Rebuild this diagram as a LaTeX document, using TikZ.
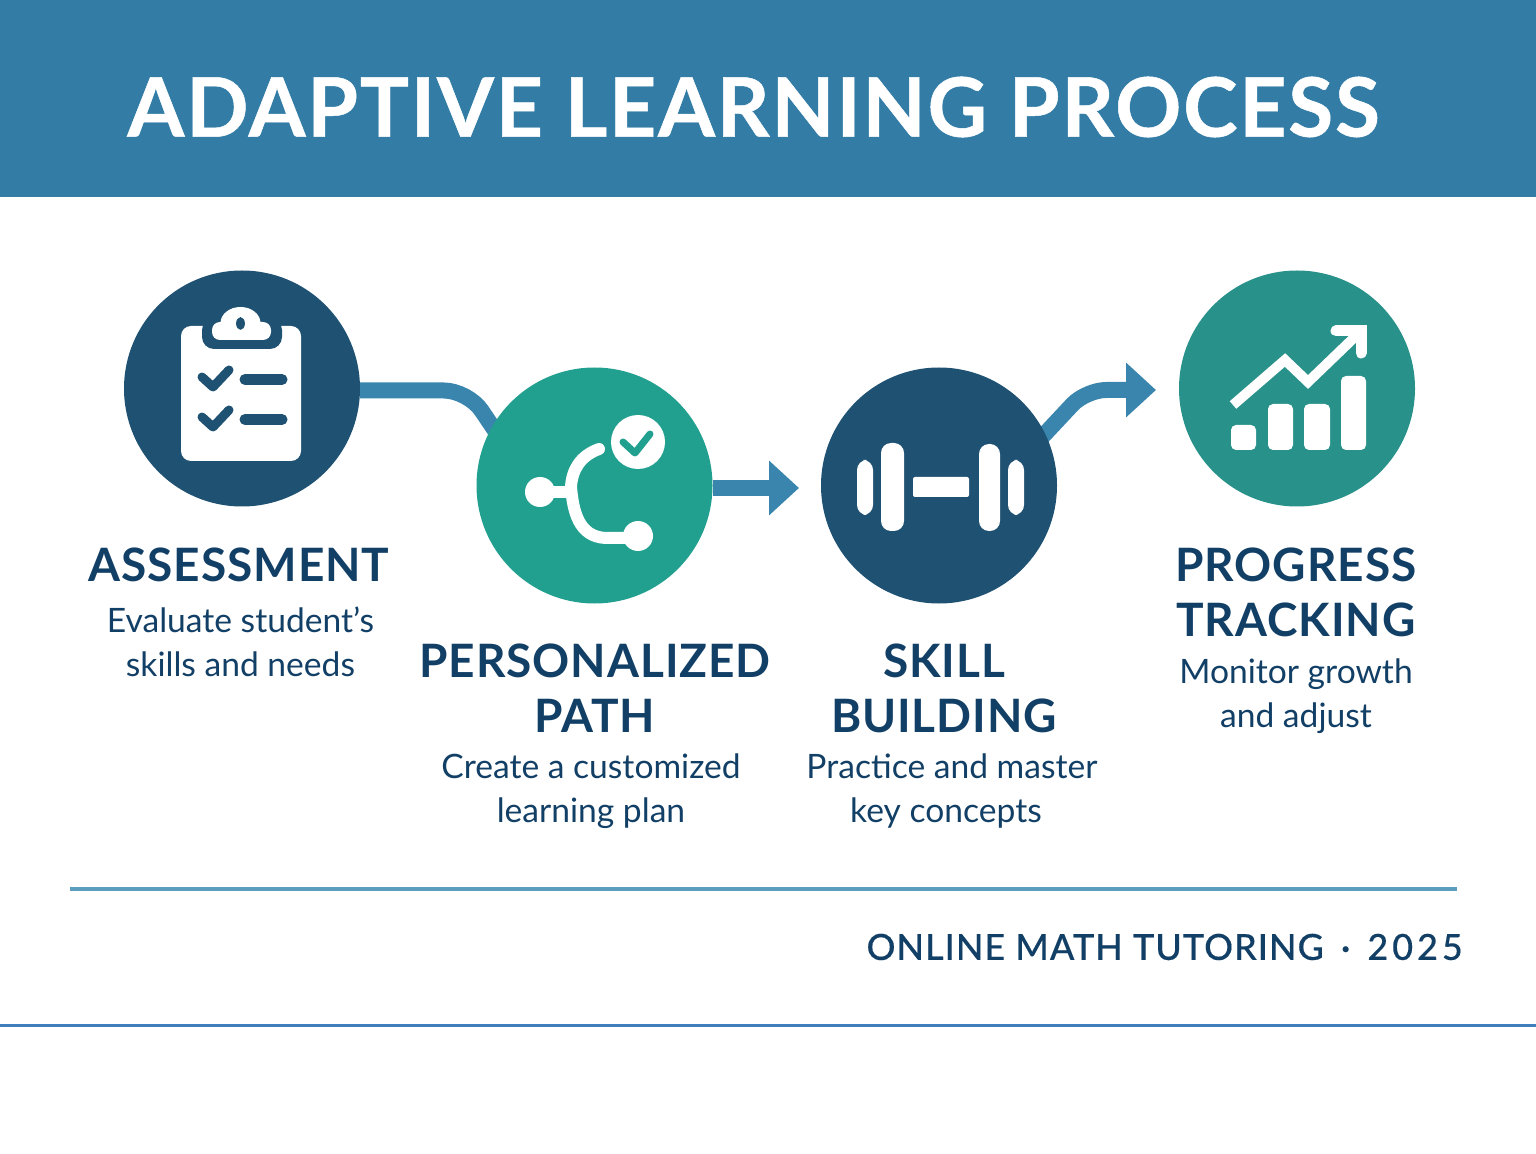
\documentclass[tikz,border=0pt]{standalone}
\usepackage{fontspec}
\setmainfont{Lato}
\newfontface\titlefont[LetterSpace=2.2,FakeBold=0.6]{Lato Bold}
\newfontface\headfont[LetterSpace=2]{Lato Bold}
\newfontface\footfont[LetterSpace=2.8,FakeBold=0.3]{Lato Medium}
\newfontface\yearfont[LetterSpace=11,FakeBold=0.3]{Lato Medium}
\usetikzlibrary{arrows.meta,backgrounds}
\definecolor{bannerblue}{HTML}{327CA6}
\definecolor{darkblue}{HTML}{1F5172}
\definecolor{tealone}{HTML}{22A08F}
\definecolor{tealtwo}{HTML}{27918A}
\definecolor{inkblue}{HTML}{123F66}
\definecolor{linkblue}{HTML}{3A85AE}
\definecolor{ruleblue}{HTML}{5C9EBE}
\definecolor{baseblue}{HTML}{3F7DBD}
\tikzset{
stepcircle/.style={circle, draw=none, fill=#1, minimum size=118pt, inner sep=0pt, outer sep=0pt},
stephead/.style={text=inkblue, align=center, font=\headfont\fontsize{23}{27.5}\selectfont},
stepdesc/.style={text=inkblue, align=center, font=\fontsize{16.8}{22}\selectfont},
link/.style={draw=linkblue, line width=8pt},
linktip/.style={-{Triangle[length=15pt,width=26.5pt]}},
iconbar/.style={fill=white, rounded corners=2.5pt},
iconline/.style={white, line width=6pt, line cap=round, line join=round},
}

\begin{document}
\begin{tikzpicture}[x=0.5pt,y=-0.5pt]
\useasboundingbox (0,0) rectangle (1536,1154);

\fill[bannerblue] (0,0) rectangle (1536,197);
\node (title) at (753.5,107) [text=white, font=\titlefont\fontsize{41}{41}\selectfont] {ADAPTIVE LEARNING PROCESS};

\node (assess) at (242,388.5) [stepcircle=darkblue] {};
\node (path) at (594.5,485.5) [stepcircle=tealone] {};
\node (skill) at (939,485.5) [stepcircle=darkblue] {};
\node (track) at (1297,388.5) [stepcircle=tealtwo] {};

\coordinate (bend1) at (468,390.5);
\coordinate (tip2) at (799,488);
\coordinate (bend3) at (1086,390);
\coordinate (tip3) at (1156,390);

\begin{scope}[on background layer]
\draw[link, rounded corners=12pt, shorten >=-8pt] (assess.east |- bend1) -- (bend1) -- (path.150);
\draw[link, linktip] (path.east |- tip2) -- (tip2);
\draw[link, linktip, rounded corners=10pt, shorten <=-8pt] (skill.26) -- (bend3) -- (tip3);
\end{scope}

% clipboard
\fill[white, rounded corners=5pt] (181,326) rectangle (301,461);
\fill[darkblue, rounded corners=6pt] (202,318) rectangle (282,349);
\fill[white, rounded corners=4pt] (212,322) rectangle (271,340);
\fill[white] (240.5,323) ellipse (10pt and 8pt);
\fill[darkblue] (240.5,323.5) ellipse (2.2pt and 3.2pt);
\foreach \y in {0,40}{
    \draw[darkblue, line width=4.5pt, line cap=round, line join=round]
        (202,377+\y) -- (213,387+\y) -- (229,370+\y);
    \draw[darkblue, line width=5.5pt, line cap=round] (245,379.5+\y) -- (282,379.5+\y);
}

% branch
\draw[iconline] (599,449) .. controls (580,456) and (572,470) .. (571,487)
    .. controls (573,510) and (578,537) .. (606,538) -- (630,538);
\draw[iconline] (540,492) -- (571,492);
\fill[white] (540,492) circle (7.5pt);
\fill[white] (638,536) circle (7.5pt);
\fill[white] (638,442) circle (13.5pt);
\draw[tealone, line width=3.5pt, line cap=round, line join=round] (623,442) -- (635,453) -- (650,434);

% dumbbell
\foreach \a/\b/\c/\d in {857/873/460/515, 881/904/443/531, 979/1000/444/531, 1008/1024/460/515}
    \fill[iconbar, rounded corners=5pt] (\a,\c) rectangle (\b,\d);
\fill[white, rounded corners=1pt] (913,477) rectangle (969,497);

% chart
\foreach \a/\b/\c in {1231/1256/425, 1268/1293/404, 1304/1330/404, 1341/1366/376}
    \fill[iconbar] (\a,\c) rectangle (\b,450);
\draw[iconline, line width=5pt, line cap=butt, line join=miter] (1233,405) -- (1285,360) -- (1308,382) -- (1361,331);
\draw[iconline, line width=5.5pt, line join=miter] (1336,331) -- (1361,331) -- (1361,353);

\node (assesshead) at (239,565) [stephead] {ASSESSMENT};
\node (assessdesc) at (240.5,642) [stepdesc] {Evaluate student's\\skills and needs};
\node (pathhead) at (595,688.5) [stephead] {PERSONALIZED\\PATH};
\node (pathdesc) at (591,791) [stepdesc] {Create a customized\\learning plan};
\node (skillhead) at (944,688.5) [stephead] {SKILL\\BUILDING};
\node (skilldesc) at (952,791) [stepdesc] {Practice and master\\key concepts\hspace*{6pt}};
\node (trackhead) at (1296,592.5) [stephead] {PROGRESS\\TRACKING};
\node (trackdesc) at (1296,696) [stepdesc] {Monitor growth\\and adjust};

\draw[ruleblue, line width=2pt] (70,889) -- (1457,889);
\node (foot) at (1463,947) [anchor=east, text=inkblue, inner sep=0pt, font=\footfont\fontsize{18}{18}\selectfont] {ONLINE MATH TUTORING\hspace{8.5pt}·\hspace{8.5pt}{\yearfont 2025}};
\draw[baseblue, line width=1.5pt] (0,1025) -- (1536,1025);

\end{tikzpicture}
\end{document}
